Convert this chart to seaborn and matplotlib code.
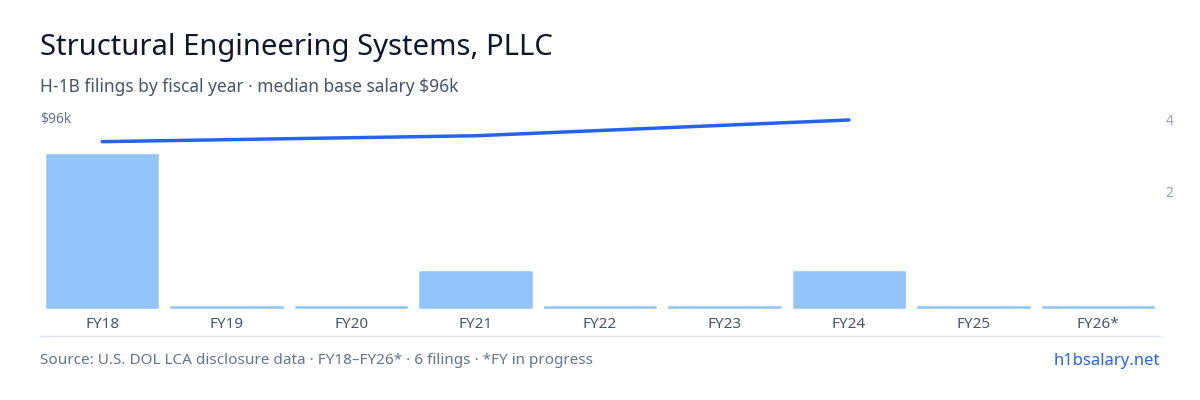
import matplotlib
matplotlib.use("Agg")
import matplotlib.pyplot as plt
import seaborn as sns
import pandas as pd

years = ["FY18","FY19","FY20","FY21","FY22","FY23","FY24","FY25","FY26*"]
filings = [4, 0, 0, 1, 0, 0, 1, 0, 0]
salary_years = ["FY18","FY21","FY24"]
salary_k = [85, 88, 96]

sns.set_theme(style="white")
plt.rcParams['font.family'] = ['Noto Sans', 'DejaVu Sans']

fig = plt.figure(figsize=(12, 4), dpi=100)
ax = fig.add_axes([40/1200, 1-309/400, 1120/1200, 194/400])
df = pd.DataFrame({"year": years, "filings": [max(v, 0.1) for v in filings]})
sns.barplot(data=df, x="year", y="filings", color="#93c5fd", saturation=1, width=0.92, ax=ax)
ax.set_ylim(0, 4*194/156)
ax.set_xlim(-0.5, len(years)-0.5)
ax.set_yticks([])
ax.set_xlabel(""); ax.set_ylabel("")
ax.tick_params(axis="x", length=0, labelsize=11, colors="#475569", pad=6)
for s in ax.spines.values():
    s.set_visible(False)

# right count axis
axr = ax.twinx()
axr.set_ylim(-1.32, 4.14)
axr.set_yticks([2, 4])
axr.set_yticklabels(["2", "4"])
axr.tick_params(axis="y", length=0, labelsize=10, colors="#94a3b8", pad=4)
for s in axr.spines.values():
    s.set_visible(False)

# salary line axis
axl = ax.twinx()
axl.set_ylim(0, 96*194/189)
axl.yaxis.set_ticks_position("left")
axl.set_yticks([96])
axl.set_yticklabels(["$96k"])
axl.tick_params(axis="y", length=0, labelsize=10, colors="#64748b", pad=0)
for lab in axl.get_yticklabels():
    lab.set_horizontalalignment("left")
    lab.set_x(0.0)
axl.yaxis.set_tick_params(pad=-1)
for s in axl.spines.values():
    s.set_visible(False)
xs = [years.index(y) for y in salary_years]
sns.lineplot(x=xs, y=salary_k, ax=axl, color="#2563eb", linewidth=2.5)
axl.set_xlim(-0.5, len(years)-0.5)
# move $96k label to sit inside left at top
axl.set_yticklabels([])
fig.text(40/1200, 1-120/400, "$96k", fontsize=10, color="#64748b", va="center", ha="left")

fig.text(40/1200, 1-47/400, "Structural Engineering Systems, PLLC", fontsize=21, color="#0f172a", va="center")
fig.text(40/1200, 1-87/400, "H-1B filings by fiscal year · median base salary $96k", fontsize=12.5, color="#475569", va="center")
fig.add_artist(plt.Line2D([40/1200, 1160/1200], [1-336/400]*2, color="#e2e8f0", lw=1))
fig.text(40/1200, 1-361/400, "Source: U.S. DOL LCA disclosure data · FY18–FY26* · 6 filings · *FY in progress", fontsize=11, color="#64748b", va="center")
fig.text(1160/1200, 1-361/400, "h1bsalary.net", fontsize=12, color="#2563eb", va="center", ha="right")

fig.savefig("out.png", dpi=100)
